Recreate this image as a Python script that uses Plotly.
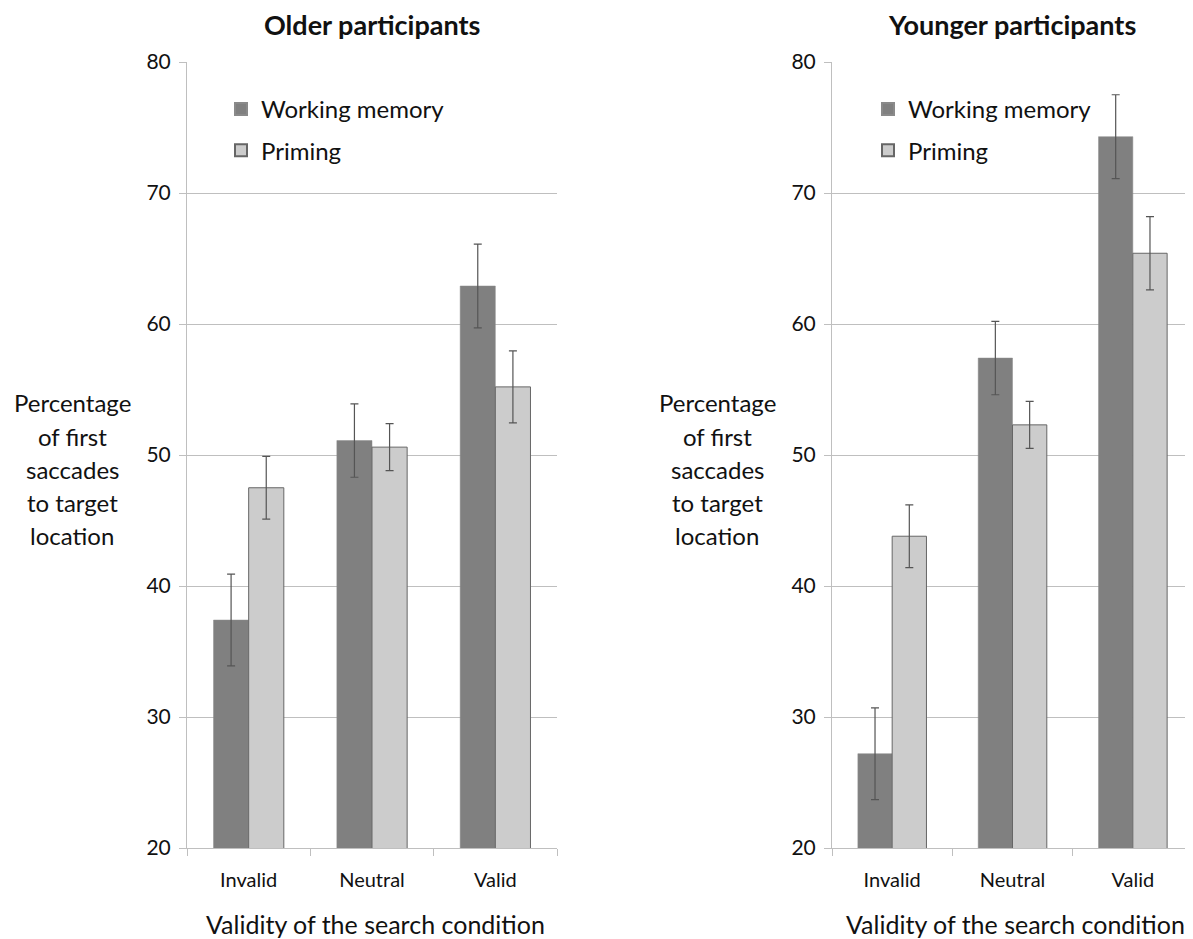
import plotly.graph_objects as go

categories = ["Invalid", "Neutral", "Valid"]
series_names = ["Working memory", "Priming"]

older_wm = [37.4, 51.1, 62.9]
older_wm_err = [3.5, 2.8, 3.2]
older_pr = [47.5, 50.6, 55.2]
older_pr_err = [2.4, 1.8, 2.75]

younger_wm = [27.2, 57.4, 74.3]
younger_wm_err = [3.5, 2.8, 3.2]
younger_pr = [43.8, 52.3, 65.4]
younger_pr_err = [2.4, 1.8, 2.8]

panel_titles = ["Older participants", "Younger participants"]
x_title = "Validity of the search condition"
y_title_lines = ["Percentage", "of first", "saccades", "to target", "location"]

FONT = "Lato, 'Open Sans', sans-serif"
OFF = 8  # page body margin
FW, FH = 1193 - OFF, 939 - OFF
WM_COLOR = "#808080"
PR_COLOR = "#cccccc"
GRID = "#bfbfbf"


def fx(px):
    return (px - OFF) / FW


def fy(py):
    return 1 - (py - OFF) / FH


dom1 = [fx(187), fx(557)]
dom2 = [fx(832), fx(1193)]
ydom = [fy(848), fy(62)]

fig = go.Figure()


def add_panel(wm, wm_err, pr, pr_err, xa, ya, legend_name):
    fig.add_trace(go.Bar(
        x=categories, y=wm, name=series_names[0], xaxis=xa, yaxis=ya,
        marker=dict(color=WM_COLOR, line=dict(color="#8a8a8a", width=0.5)),
        error_y=dict(type="data", array=wm_err, color="#555555", thickness=1.2, width=4),
        legend=legend_name, legendgroup=legend_name + "wm",
    ))
    fig.add_trace(go.Bar(
        x=categories, y=pr, name=series_names[1], xaxis=xa, yaxis=ya,
        marker=dict(color=PR_COLOR, line=dict(color="#666666", width=1)),
        error_y=dict(type="data", array=pr_err, color="#555555", thickness=1.2, width=4),
        legend=legend_name, legendgroup=legend_name + "pr",
    ))


add_panel(older_wm, older_wm_err, older_pr, older_pr_err, "x", "y", "legend")
add_panel(younger_wm, younger_wm_err, younger_pr, younger_pr_err, "x2", "y2", "legend2")

xaxis_common = dict(
    showline=True, linecolor=GRID, linewidth=1,
    ticks="outside", tickson="boundaries", ticklen=7, tickcolor=GRID,
    tickfont=dict(family=FONT, size=20, color="#111111"),
    ticklabelstandoff=14,
    showgrid=False, zeroline=False, fixedrange=True, automargin=False,
)
yaxis_common = dict(
    range=[20, 80], dtick=10, showline=True, linecolor=GRID, linewidth=1,
    ticks="outside", ticklen=7, tickcolor=GRID,
    tickfont=dict(family=FONT, size=21, color="#111111"),
    ticklabelstandoff=4,
    showgrid=True, gridcolor=GRID, gridwidth=1, zeroline=False, fixedrange=True,
    automargin=False,
)

legend_common = dict(
    bgcolor="rgba(0,0,0,0)", font=dict(family=FONT, size=24, color="#111111"),
    xanchor="left", yanchor="top", tracegroupgap=7, itemsizing="constant",
    traceorder="grouped",
)

fig.update_layout(
    width=FW, height=FH, margin=dict(l=0, r=0, t=0, b=0, autoexpand=False),
    paper_bgcolor="white", plot_bgcolor="white",
    barmode="group", bargap=0.43, bargroupgap=0,
    xaxis=dict(domain=dom1, anchor="y", **xaxis_common),
    yaxis=dict(domain=ydom, anchor="x", **yaxis_common),
    xaxis2=dict(domain=dom2, anchor="y2", **xaxis_common),
    yaxis2=dict(domain=ydom, anchor="x2", **yaxis_common),
    legend=dict(x=fx(221), y=fy(87), **legend_common),
    legend2=dict(x=fx(868), y=fy(87), **legend_common),
    font=dict(family=FONT, color="#111111"),
)

annotations = []
for title, dom, ycx in [(panel_titles[0], dom1, 72), (panel_titles[1], dom2, 717)]:
    cx = (dom[0] + dom[1]) / 2
    annotations.append(dict(
        text="<b>" + title + "</b>", x=cx, y=fy(25), xref="paper", yref="paper",
        xanchor="center", yanchor="middle", showarrow=False,
        font=dict(family=FONT, size=27, color="#111111"),
    ))
    annotations.append(dict(
        text=x_title, x=cx + 3 / FW, y=fy(924), xref="paper", yref="paper",
        xanchor="center", yanchor="middle", showarrow=False,
        font=dict(family=FONT, size=25, color="#111111"),
    ))
    for i, line in enumerate(y_title_lines):
        annotations.append(dict(
            text=line, x=fx(ycx), y=fy(403 + 33.2 * i), xref="paper", yref="paper",
            xanchor="center", yanchor="middle", showarrow=False,
            font=dict(family=FONT, size=24, color="#111111"),
        ))
fig.update_layout(annotations=annotations)

fig.write_html("out.html")
